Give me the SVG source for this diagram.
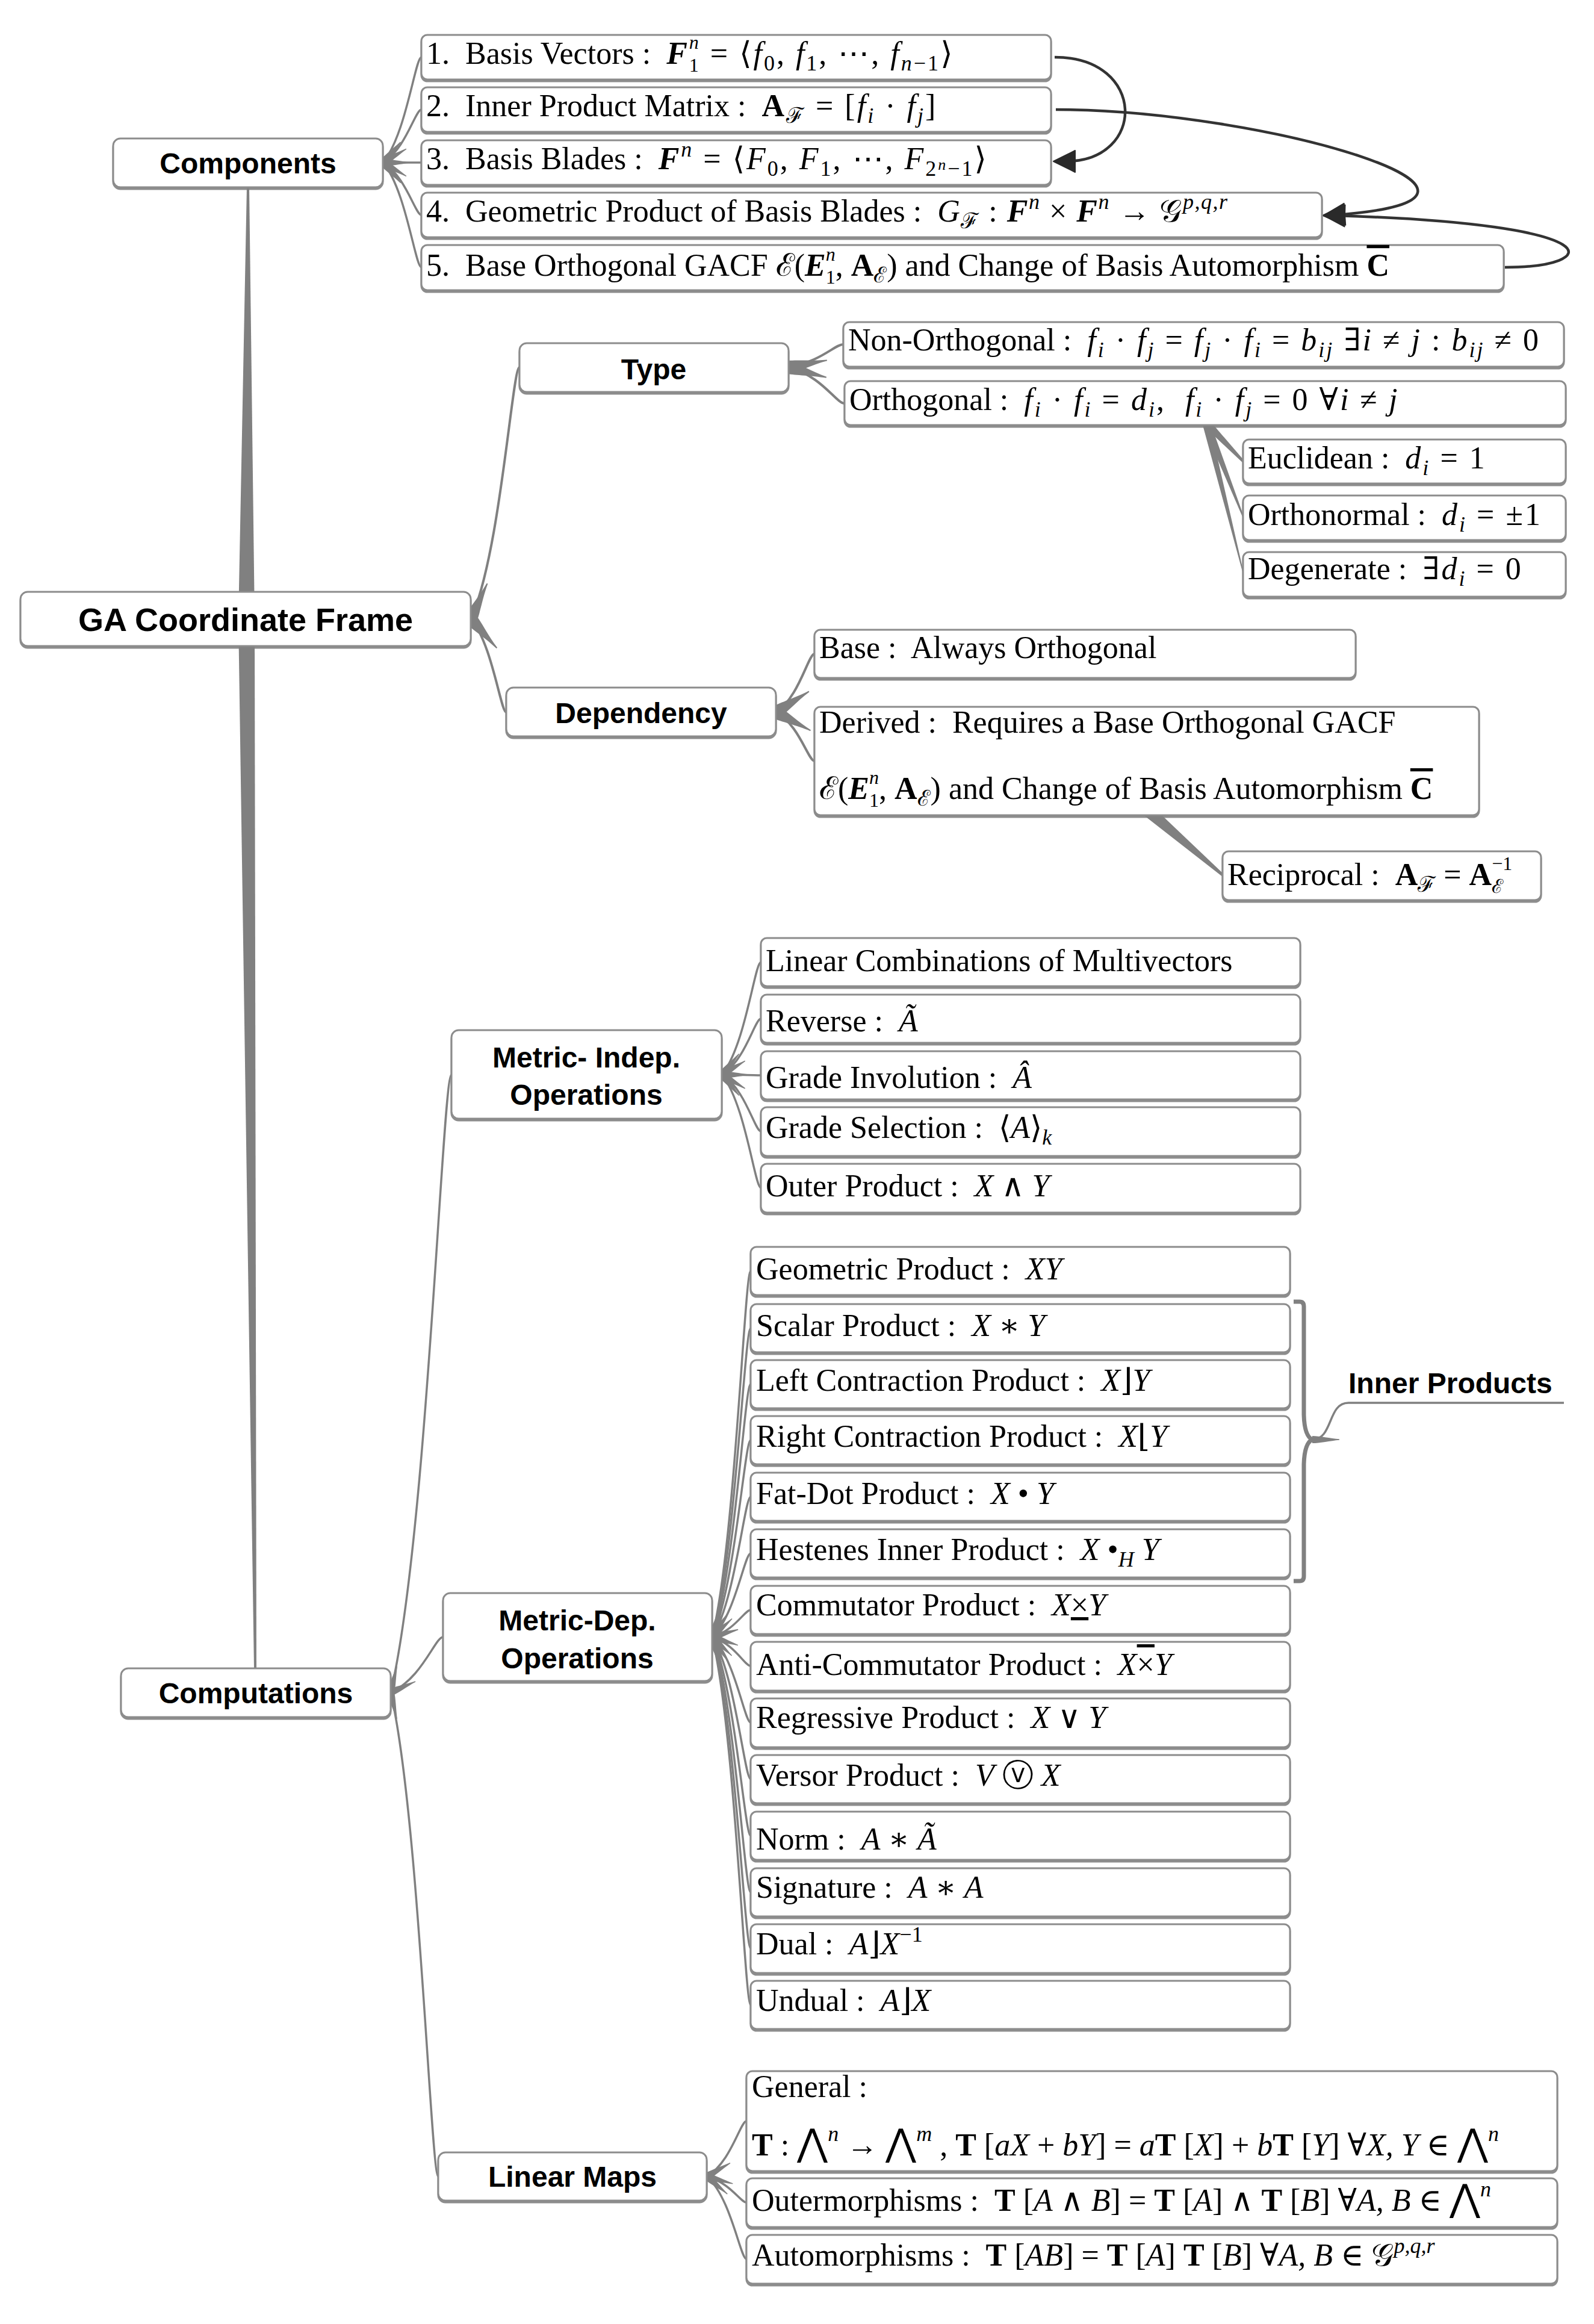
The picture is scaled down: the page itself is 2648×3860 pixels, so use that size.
<svg xmlns="http://www.w3.org/2000/svg" width="2648" height="3860" viewBox="0 0 2648 3860">
<defs>
<style>
.bx{fill:#fff;stroke:#8c8c8c;stroke-width:3;filter:url(#sh)}
.nd{font-family:"Liberation Sans",Arial,sans-serif;font-weight:bold;font-size:48px;fill:#000;text-anchor:middle}
.tx{font-family:"Liberation Serif","Times New Roman","DejaVu Serif",serif;font-size:52px;fill:#000}
.it{font-style:italic}
.bf{font-weight:bold}
.bi{font-weight:bold;font-style:italic}
.s{font-size:36px}
.ss{font-size:32px}
.xs{font-size:26px}
.big{font-size:62px}
.ov{text-decoration:overline}
.un{text-decoration:underline}
.m{letter-spacing:3px}
.c{fill:none;stroke:#808080;stroke-width:3.5;marker-start:url(#tp)}
.cL{fill:none;stroke:#808080;stroke-width:4;marker-start:url(#tpL)}
.w{fill:#808080}
.ar{fill:none;stroke:#333;stroke-width:4.5;marker-end:url(#ah)}
.br{fill:none;stroke:#808080;stroke-width:7;stroke-linejoin:round}
</style>
<filter id="sh" x="-5%" y="-10%" width="110%" height="130%"><feDropShadow dx="0" dy="3" stdDeviation="0.6" flood-color="#808080" flood-opacity="0.9"/></filter>
<marker id="tp" markerUnits="userSpaceOnUse" markerWidth="60" markerHeight="20" refX="0" refY="10" orient="auto" overflow="visible"><path d="M0,4 C12,4 30,8 45,9.3 L45,10.7 C30,12 12,16 0,16 Z" fill="#808080"/></marker>
<marker id="tpL" markerUnits="userSpaceOnUse" markerWidth="80" markerHeight="30" refX="0" refY="15" orient="auto" overflow="visible"><path d="M0,4 C15,5 40,12 65,14 L65,16 C40,18 15,25 0,26 Z" fill="#808080"/></marker>
<marker id="ah" markerUnits="userSpaceOnUse" markerWidth="40" markerHeight="40" refX="16" refY="18" orient="auto" overflow="visible"><path d="M0,0 L36,18 L0,36 Z" fill="#2a2a2a" stroke="#2a2a2a" stroke-width="2" stroke-linejoin="round"/></marker>
</defs>
<rect x="0" y="0" width="2648" height="3860" fill="#fff"/>

<g id="connectors">
<path class="w" d="M410 311 L414 311 L423 1028 L426 2771 L422 2771 L396 1028 Z"/>
<path class="c" d="M636 270 C674 226 690 95 700 95"/>
<path class="c" d="M636 270 C674 248 690 182 700 182"/>
<path class="c" d="M636 270 C674 270 690 270 700 270"/>
<path class="c" d="M636 270 C674 292 690 357 700 357"/>
<path class="c" d="M636 270 C674 313 690 444 700 444"/>
<path class="cL" d="M782 1028 C831 923 851 610 863 610"/>
<path class="cL" d="M782 1028 C817 1067 832 1183 841 1183"/>
<path class="cL" d="M1310 610 C1365 600 1387 572 1401 572"/>
<path class="cL" d="M1310 610 C1366 625 1389 670 1403 670"/>
<path class="w" d="M1998 706 L2016 706 L2066 764 L2066 770 Z"/>
<path class="w" d="M1998 706 L2012 706 L2066 857 L2066 863 Z"/>
<path class="w" d="M1998 706 L2010 706 L2066 951 L2066 957 Z"/>
<path class="cL" d="M1289 1183 C1327 1159 1343 1086 1353 1086"/>
<path class="cL" d="M1289 1183 C1327 1203 1343 1264 1353 1264"/>
<path class="w" d="M1900 1354 L1930 1354 L2032 1451 L2032 1457 Z"/>
<path class="c" d="M649 2811 C710 2554 735 1785 750 1785"/>
<path class="c" d="M649 2811 C701 2788 723 2719 736 2719"/>
<path class="c" d="M649 2811 C696 3012 716 3615 728 3615"/>
<path class="c" d="M1199 1785 C1238 1738 1254 1598 1264 1598"/>
<path class="c" d="M1199 1785 C1238 1762 1254 1692 1264 1692"/>
<path class="c" d="M1199 1785 C1238 1785 1254 1786 1264 1786"/>
<path class="c" d="M1199 1785 C1238 1808 1254 1879 1264 1879"/>
<path class="c" d="M1199 1785 C1238 1832 1254 1973 1264 1973"/>
<path class="c" d="M1183 2719 C1221 2567 1237 2111 1247 2111"/>
<path class="c" d="M1183 2719 C1221 2591 1237 2206 1247 2206"/>
<path class="c" d="M1183 2719 C1221 2614 1237 2299 1247 2299"/>
<path class="c" d="M1183 2719 C1221 2637 1237 2392 1247 2392"/>
<path class="c" d="M1183 2719 C1221 2661 1237 2486 1247 2486"/>
<path class="c" d="M1183 2719 C1221 2684 1237 2580 1247 2580"/>
<path class="c" d="M1183 2719 C1221 2708 1237 2674 1247 2674"/>
<path class="c" d="M1183 2719 C1221 2731 1237 2767 1247 2767"/>
<path class="c" d="M1183 2719 C1221 2755 1237 2861 1247 2861"/>
<path class="c" d="M1183 2719 C1221 2778 1237 2955 1247 2955"/>
<path class="c" d="M1183 2719 C1221 2802 1237 3049 1247 3049"/>
<path class="c" d="M1183 2719 C1221 2825 1237 3143 1247 3143"/>
<path class="c" d="M1183 2719 C1221 2848 1237 3236 1247 3236"/>
<path class="c" d="M1183 2719 C1221 2872 1237 3330 1247 3330"/>
<path class="c" d="M1174 3615 C1214 3592 1230 3523 1240 3523"/>
<path class="c" d="M1174 3615 C1214 3626 1230 3658 1240 3658"/>
<path class="c" d="M1174 3615 C1214 3649 1230 3752 1240 3752"/>
<path class="br" d="M2149 2162 L2159 2162 Q2166 2162 2166 2170 L2166 2350 Q2167 2385 2180 2391 Q2167 2397 2166 2432 L2166 2618 Q2166 2626 2159 2626 L2149 2626"/>
<path class="c" d="M2180 2391 C2215 2391 2205 2330 2240 2330 L2598 2330"/>
<path class="ar" d="M1752 95 C1905 95 1905 268 1770 268"/>
<path class="ar" d="M1754 182 C2100 182 2600 330 2218 357"/>
<path class="ar" d="M2500 444 C2660 444 2690 372 2218 358"/>
</g>

<g id="n-ga"><rect class="bx" x="34" y="983" width="748" height="90" rx="12"/><text class="nd" style="font-size:54px" x="408" y="1048">GA Coordinate Frame</text></g>
<g id="n-components"><rect class="bx" x="188" y="230" width="448" height="81" rx="12"/><text class="nd" x="412" y="288">Components</text></g>
<g id="n-c1"><rect class="bx" x="700" y="58" width="1046" height="74" rx="10"/><text class="tx" x="708" y="106">1.&#160; Basis Vectors :&#160; <tspan class="m"><tspan class="bi">F</tspan><tspan class="ss it" dy="-25">n</tspan><tspan class="ss" dx="-19" dy="38">1</tspan><tspan dy="-13"> = ⟨</tspan><tspan class="it">f</tspan><tspan class="s" dy="11">0</tspan><tspan dy="-11">, </tspan><tspan class="it">f</tspan><tspan class="s" dy="11">1</tspan><tspan dy="-11">, ⋯, </tspan><tspan class="it">f</tspan><tspan class="s" dy="11"><tspan class="it">n</tspan>−1</tspan><tspan dy="-11">⟩</tspan></tspan></text></g>
<g id="n-c2"><rect class="bx" x="700" y="145" width="1046" height="74" rx="10"/><text class="tx" x="708" y="193">2.&#160; Inner Product Matrix :&#160; <tspan class="m"><tspan class="bf">A</tspan><tspan class="s" dy="11">ℱ</tspan><tspan dy="-11"> = [</tspan><tspan class="it">f</tspan><tspan class="s it" dy="11">i</tspan><tspan dy="-11"> · </tspan><tspan class="it">f</tspan><tspan class="s it" dy="11">j</tspan><tspan dy="-11">]</tspan></tspan></text></g>
<g id="n-c3"><rect class="bx" x="700" y="233" width="1046" height="74" rx="10"/><text class="tx" x="708" y="281">3.&#160; Basis Blades :&#160; <tspan class="m"><tspan class="bi">F</tspan><tspan class="s it" dy="-21">n</tspan><tspan dy="21"> = ⟨</tspan><tspan class="it">F</tspan><tspan class="s" dy="11">0</tspan><tspan dy="-11">, </tspan><tspan class="it">F</tspan><tspan class="s" dy="11">1</tspan><tspan dy="-11">, ⋯, </tspan><tspan class="it">F</tspan><tspan class="s" dy="11">2</tspan><tspan class="xs it" dy="-10">n</tspan><tspan class="s" dy="10">−1</tspan><tspan dy="-11">⟩</tspan></tspan></text></g>
<g id="n-c4"><rect class="bx" x="700" y="320" width="1496" height="74" rx="10"/><text class="tx" x="708" y="368">4.&#160; Geometric Product of Basis Blades :&#160; <tspan style="letter-spacing:1.5px"><tspan class="it">G</tspan><tspan class="s" dy="11">ℱ</tspan><tspan dy="-11"> : </tspan><tspan class="bi">F</tspan><tspan class="s it" dy="-21">n</tspan><tspan dy="21"> × </tspan><tspan class="bi">F</tspan><tspan class="s it" dy="-21">n</tspan><tspan dy="21"> → 𝒢</tspan><tspan class="s it" dy="-21">p,q,r</tspan></tspan></text></g>
<g id="n-c5"><rect class="bx" x="700" y="407" width="1798" height="75" rx="10"/><text class="tx" x="708" y="458">5.&#160; Base Orthogonal GACF ℰ(<tspan class="bi">E</tspan><tspan class="ss it" dy="-25">n</tspan><tspan class="ss" dx="-16" dy="38">1</tspan><tspan dy="-13">, </tspan><tspan class="bf">A</tspan><tspan class="s" dy="11">ℰ</tspan><tspan dy="-11">) and Change of Basis Automorphism </tspan><tspan class="bf ov">C</tspan></text></g>

<g id="n-type"><rect class="bx" x="863" y="570" width="447" height="81" rx="12"/><text class="nd" x="1086" y="630">Type</text></g>
<g id="n-nonorth"><rect class="bx" x="1401" y="535" width="1197" height="74" rx="10"/><text class="tx" x="1409" y="582">Non-Orthogonal :&#160; <tspan class="m"><tspan class="it">f</tspan><tspan class="s it" dy="11">i</tspan><tspan dy="-11"> · </tspan><tspan class="it">f</tspan><tspan class="s it" dy="11">j</tspan><tspan dy="-11"> = </tspan><tspan class="it">f</tspan><tspan class="s it" dy="11">j</tspan><tspan dy="-11"> · </tspan><tspan class="it">f</tspan><tspan class="s it" dy="11">i</tspan><tspan dy="-11"> = </tspan><tspan class="it">b</tspan><tspan class="s it" dy="11">ij</tspan><tspan dy="-11"> ∃</tspan><tspan class="it">i</tspan> ≠ <tspan class="it">j</tspan> : <tspan class="it">b</tspan><tspan class="s it" dy="11">ij</tspan><tspan dy="-11"> ≠ 0</tspan></tspan></text></g>
<g id="n-orth"><rect class="bx" x="1403" y="633" width="1198" height="73" rx="10"/><text class="tx" x="1411" y="681">Orthogonal :&#160; <tspan class="m"><tspan class="it">f</tspan><tspan class="s it" dy="11">i</tspan><tspan dy="-11"> · </tspan><tspan class="it">f</tspan><tspan class="s it" dy="11">i</tspan><tspan dy="-11"> = </tspan><tspan class="it">d</tspan><tspan class="s it" dy="11">i</tspan><tspan dy="-11">,&#160; </tspan><tspan class="it">f</tspan><tspan class="s it" dy="11">i</tspan><tspan dy="-11"> · </tspan><tspan class="it">f</tspan><tspan class="s it" dy="11">j</tspan><tspan dy="-11"> = 0 ∀</tspan><tspan class="it">i</tspan> ≠ <tspan class="it">j</tspan></tspan></text></g>
<g id="n-eucl"><rect class="bx" x="2065" y="730" width="536" height="73" rx="10"/><text class="tx" x="2073" y="778">Euclidean :&#160; <tspan class="m"><tspan class="it">d</tspan><tspan class="s it" dy="11">i</tspan><tspan dy="-11"> = 1</tspan></tspan></text></g>
<g id="n-orthn"><rect class="bx" x="2065" y="823" width="536" height="74" rx="10"/><text class="tx" x="2073" y="872">Orthonormal :&#160; <tspan class="m"><tspan class="it">d</tspan><tspan class="s it" dy="11">i</tspan><tspan dy="-11"> = ±1</tspan></tspan></text></g>
<g id="n-degen"><rect class="bx" x="2065" y="917" width="536" height="74" rx="10"/><text class="tx" x="2073" y="962">Degenerate :&#160; <tspan class="m">∃<tspan class="it">d</tspan><tspan class="s it" dy="11">i</tspan><tspan dy="-11"> = 0</tspan></tspan></text></g>

<g id="n-dep"><rect class="bx" x="841" y="1142" width="448" height="81" rx="12"/><text class="nd" x="1065" y="1201">Dependency</text></g>
<g id="n-base"><rect class="bx" x="1353" y="1046" width="899" height="80" rx="10"/><text class="tx" x="1361" y="1093">Base :&#160; Always Orthogonal</text></g>
<g id="n-derived"><rect class="bx" x="1353" y="1174" width="1104" height="180" rx="10"/><text class="tx" x="1361" y="1217">Derived :&#160; Requires a Base Orthogonal GACF</text><text class="tx" x="1361" y="1327">ℰ(<tspan class="bi">E</tspan><tspan class="ss it" dy="-25">n</tspan><tspan class="ss" dx="-16" dy="38">1</tspan><tspan dy="-13">, </tspan><tspan class="bf">A</tspan><tspan class="s" dy="11">ℰ</tspan><tspan dy="-11">) and Change of Basis Automorphism </tspan><tspan class="bf ov">C</tspan></text></g>
<g id="n-recip"><rect class="bx" x="2031" y="1414" width="529" height="81" rx="10"/><text class="tx" x="2039" y="1470">Reciprocal :&#160; <tspan class="bf">A</tspan><tspan class="s" dy="11">ℱ</tspan><tspan dy="-11"> = </tspan><tspan class="bf">A</tspan><tspan class="ss" dy="-25">−1</tspan><tspan class="ss" dx="-34" dy="38">ℰ</tspan></text></g>

<g id="n-comp"><rect class="bx" x="201" y="2771" width="448" height="81" rx="12"/><text class="nd" x="425" y="2829">Computations</text></g>

<g id="n-mind"><rect class="bx" x="750" y="1711" width="449" height="147" rx="12"/><text class="nd" x="974" y="1773">Metric- Indep.</text><text class="nd" x="974" y="1835">Operations</text></g>
<g id="n-lin"><rect class="bx" x="1264" y="1558" width="896" height="80" rx="10"/><text class="tx" x="1272" y="1613">Linear Combinations of Multivectors</text></g>
<g id="n-rev"><rect class="bx" x="1264" y="1652" width="896" height="80" rx="10"/><text class="tx" x="1272" y="1713">Reverse :&#160; <tspan class="it">Ã</tspan></text></g>
<g id="n-inv"><rect class="bx" x="1264" y="1746" width="896" height="80" rx="10"/><text class="tx" x="1272" y="1807">Grade Involution :&#160; <tspan class="it">Â</tspan></text></g>
<g id="n-gsel"><rect class="bx" x="1264" y="1839" width="896" height="81" rx="10"/><text class="tx" x="1272" y="1890">Grade Selection :&#160; ⟨<tspan class="it">A</tspan>⟩<tspan class="s it" dy="11">k</tspan></text></g>
<g id="n-outer"><rect class="bx" x="1264" y="1933" width="896" height="81" rx="10"/><text class="tx" x="1272" y="1987">Outer Product :&#160; <tspan class="it">X</tspan> ∧ <tspan class="it">Y</tspan></text></g>

<g id="n-mdep"><rect class="bx" x="736" y="2646" width="447" height="146" rx="12"/><text class="nd" x="959" y="2708">Metric-Dep.</text><text class="nd" x="959" y="2771">Operations</text></g>
<g id="n-geo"><rect class="bx" x="1247" y="2071" width="896" height="80" rx="10"/><text class="tx" x="1256" y="2125">Geometric Product :&#160; <tspan class="it">XY</tspan></text></g>
<g id="n-scal"><rect class="bx" x="1247" y="2166" width="896" height="80" rx="10"/><text class="tx" x="1256" y="2219">Scalar Product :&#160; <tspan class="it">X</tspan> ∗ <tspan class="it">Y</tspan></text></g>
<g id="n-lc"><rect class="bx" x="1247" y="2259" width="896" height="80" rx="10"/><text class="tx" x="1256" y="2310">Left Contraction Product :&#160; <tspan class="it">X</tspan>⌋<tspan class="it">Y</tspan></text></g>
<g id="n-rc"><rect class="bx" x="1247" y="2352" width="896" height="80" rx="10"/><text class="tx" x="1256" y="2403">Right Contraction Product :&#160; <tspan class="it">X</tspan>⌊<tspan class="it">Y</tspan></text></g>
<g id="n-fat"><rect class="bx" x="1247" y="2446" width="896" height="80" rx="10"/><text class="tx" x="1256" y="2498">Fat-Dot Product :&#160; <tspan class="it">X</tspan> • <tspan class="it">Y</tspan></text></g>
<g id="n-hest"><rect class="bx" x="1247" y="2540" width="896" height="80" rx="10"/><text class="tx" x="1256" y="2591">Hestenes Inner Product :&#160; <tspan class="it">X</tspan> •<tspan class="s it" dy="11">H</tspan><tspan class="it" dy="-11"> Y</tspan></text></g>
<g id="n-comm"><rect class="bx" x="1247" y="2634" width="896" height="80" rx="10"/><text class="tx" x="1256" y="2683">Commutator Product :&#160; <tspan class="it">X</tspan><tspan class="un">×</tspan><tspan class="it">Y</tspan></text></g>
<g id="n-acomm"><rect class="bx" x="1247" y="2727" width="896" height="81" rx="10"/><text class="tx" x="1256" y="2782">Anti-Commutator Product :&#160; <tspan class="it">X</tspan><tspan class="ov">×</tspan><tspan class="it">Y</tspan></text></g>
<g id="n-regr"><rect class="bx" x="1247" y="2821" width="896" height="81" rx="10"/><text class="tx" x="1256" y="2870">Regressive Product :&#160; <tspan class="it">X</tspan> ∨ <tspan class="it">Y</tspan></text></g>
<g id="n-vers"><rect class="bx" x="1247" y="2915" width="896" height="80" rx="10"/><text class="tx" x="1256" y="2966">Versor Product :&#160; <tspan class="it">V</tspan> ⓥ <tspan class="it">X</tspan></text></g>
<g id="n-norm"><rect class="bx" x="1247" y="3009" width="896" height="80" rx="10"/><text class="tx" x="1256" y="3072">Norm :&#160; <tspan class="it">A</tspan> ∗ <tspan class="it">Ã</tspan></text></g>
<g id="n-sig"><rect class="bx" x="1247" y="3103" width="896" height="80" rx="10"/><text class="tx" x="1256" y="3152">Signature :&#160; <tspan class="it">A</tspan> ∗ <tspan class="it">A</tspan></text></g>
<g id="n-dual"><rect class="bx" x="1247" y="3196" width="896" height="81" rx="10"/><text class="tx" x="1256" y="3246">Dual :&#160; <tspan class="it">A</tspan>⌋<tspan class="it">X</tspan><tspan class="s" dy="-21">−1</tspan></text></g>
<g id="n-undual"><rect class="bx" x="1247" y="3290" width="896" height="80" rx="10"/><text class="tx" x="1256" y="3340">Undual :&#160; <tspan class="it">A</tspan>⌋<tspan class="it">X</tspan></text></g>
<g id="n-inner"><text class="nd" style="text-anchor:start" x="2240" y="2314">Inner Products</text></g>

<g id="n-lmaps"><rect class="bx" x="728" y="3575" width="446" height="80" rx="12"/><text class="nd" x="951" y="3632">Linear Maps</text></g>
<g id="n-general"><rect class="bx" x="1240" y="3440" width="1347" height="166" rx="10"/><text class="tx" x="1249" y="3483">General :</text><text class="tx" x="1249" y="3580"><tspan class="bf">T</tspan> : <tspan class="big">⋀</tspan><tspan class="s it" dy="-24">n</tspan><tspan dy="24"> → </tspan><tspan class="big">⋀</tspan><tspan class="s it" dy="-24">m</tspan><tspan dy="24"> , </tspan><tspan class="bf">T</tspan> [<tspan class="it">aX</tspan> + <tspan class="it">bY</tspan>] = <tspan class="it">a</tspan><tspan class="bf">T</tspan> [<tspan class="it">X</tspan>] + <tspan class="it">b</tspan><tspan class="bf">T</tspan> [<tspan class="it">Y</tspan>] ∀<tspan class="it">X, Y</tspan> ∈ <tspan class="big">⋀</tspan><tspan class="s it" dy="-24">n</tspan></text></g>
<g id="n-outm"><rect class="bx" x="1240" y="3618" width="1347" height="81" rx="10"/><text class="tx" x="1249" y="3672">Outermorphisms :&#160; <tspan class="bf">T</tspan> [<tspan class="it">A</tspan> ∧ <tspan class="it">B</tspan>] = <tspan class="bf">T</tspan> [<tspan class="it">A</tspan>] ∧ <tspan class="bf">T</tspan> [<tspan class="it">B</tspan>] ∀<tspan class="it">A, B</tspan> ∈ <tspan class="big">⋀</tspan><tspan class="s it" dy="-24">n</tspan></text></g>
<g id="n-autom"><rect class="bx" x="1240" y="3712" width="1347" height="81" rx="10"/><text class="tx" x="1249" y="3763">Automorphisms :&#160; <tspan class="bf">T</tspan> [<tspan class="it">AB</tspan>] = <tspan class="bf">T</tspan> [<tspan class="it">A</tspan>] <tspan class="bf">T</tspan> [<tspan class="it">B</tspan>] ∀<tspan class="it">A, B</tspan> ∈ 𝒢<tspan class="s it" dy="-21">p,q,r</tspan></text></g>
</svg>
